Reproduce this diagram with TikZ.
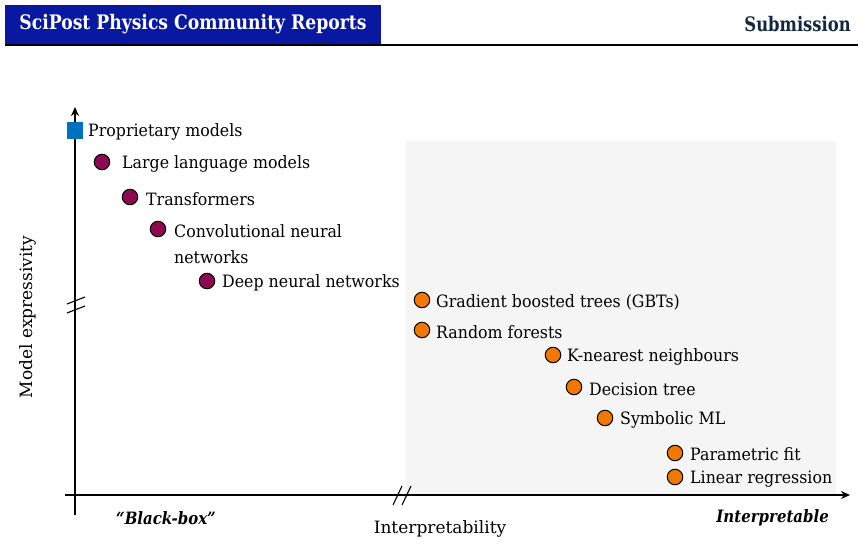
\documentclass[tikz,border=0pt]{standalone}
\usepackage{fontspec}
\setmainfont{DejaVu Serif}
\usetikzlibrary{arrows.meta}
\definecolor{hdrblue}{RGB}{8,24,160}
\definecolor{navy}{RGB}{16,40,64}
\definecolor{boxgray}{RGB}{245,245,245}
\definecolor{propblue}{RGB}{0,112,192}
\definecolor{nnpurple}{RGB}{140,10,80}
\definecolor{interporange}{RGB}{240,120,0}
\newcommand\sqz[1]{\scalebox{0.93}[1]{#1}}
\newcommand\sqzb[1]{\scalebox{0.88}[1]{#1}}
\tikzset{
  lbl/.style={anchor=west, inner sep=0pt, font=\fontsize{17}{20}\selectfont},
  blackdot/.style={circle, draw=black, line width=1pt, fill=nnpurple, minimum size=15.5pt, inner sep=0pt},
  orangedot/.style={circle, draw=black, line width=1pt, fill=interporange, minimum size=15.5pt, inner sep=0pt},
  axis/.style={line width=1.8pt, -{Stealth[length=9pt,width=8pt]}},
  brk/.style={line width=1.1pt},
}
\begin{document}
\begin{tikzpicture}[x=1pt,y=-1pt]
\useasboundingbox (0,0) rectangle (863,546);
\fill[white] (0,0) rectangle (863,546);
% header
\fill[hdrblue] (5,5) rectangle (381,44);
\node[text=white, font=\bfseries\fontsize{20}{24}\selectfont, inner sep=0pt] (hdr) at (193,24) {\scalebox{0.86}[1]{SciPost Physics Community Reports}};
\node[text=navy, font=\bfseries\fontsize{20}{24}\selectfont, inner sep=0pt, anchor=east] (sub) at (851,24) {\scalebox{0.82}[1]{Submission}};
\draw[line width=2.2pt] (5,45) -- (858,45);
% grey box
\fill[boxgray] (406,141) rectangle (836,494);
% axes
\coordinate (o1) at (65,495);
\coordinate (xe) at (850,495);
\coordinate (o2) at (75,515);
\coordinate (ye) at (75,107);
\draw[axis] (o1) -- (xe);
\draw[axis] (o2) -- (ye);
% axis breaks
\draw[brk] (67,304) -- (85,297);
\draw[brk] (67,313) -- (85,306);
\draw[brk] (393,505) -- (402,486);
\draw[brk] (402,505) -- (411,486);
% proprietary
\node[fill=propblue, minimum width=16pt, minimum height=17pt, inner sep=0pt] (prop) at (75,130) {};
\node[lbl] (propl) at (88,132) {\sqz{Proprietary models}};
% neural
\node[blackdot] (llm) at (102,162) {};
\node[lbl] (llml) at (122,164) {\sqz{Large language models}};
\node[blackdot] (tr) at (130,197) {};
\node[lbl] (trl) at (146,199) {\sqz{Transformers}};
\node[blackdot] (cnn) at (158,229) {};
\node[lbl] (cnnl) at (174,231) {\sqz{Convolutional neural}};
\node[lbl] (cnnl2) at (174,257) {\sqz{networks}};
\node[blackdot] (dnn) at (207,281) {};
\node[lbl] (dnnl) at (222,283) {\sqz{Deep neural networks}};
% interpretable
\node[orangedot] (gbt) at (422,300) {};
\node[lbl] (gbtl) at (436,302) {\sqz{Gradient boosted trees (GBTs)}};
\node[orangedot] (rf) at (422,330) {};
\node[lbl] (rfl) at (436,332) {\sqz{Random forests}};
\node[orangedot] (knn) at (553,355) {};
\node[lbl] (knnl) at (567,357) {\sqz{K-nearest neighbours}};
\node[orangedot] (dt) at (574,387) {};
\node[lbl] (dtl) at (589,389) {\sqz{Decision tree}};
\node[orangedot] (sml) at (605,418) {};
\node[lbl] (smll) at (620,420) {\sqz{Symbolic ML}};
\node[orangedot] (pf) at (675,453) {};
\node[lbl] (pfl) at (690,454) {\sqz{Parametric fit}};
\node[orangedot] (lr) at (675,477) {};
\node[lbl] (lrl) at (690,479) {\sqz{Linear regression}};
% axis labels
\node[rotate=90, inner sep=0pt, font=\fontsize{17}{20}\selectfont] (ylab) at (28,317) {Model expressivity};
\node[inner sep=0pt, font=\fontsize{17}{20}\selectfont] (xlab) at (440,529) {Interpretability};
\node[inner sep=0pt, font=\bfseries\itshape\fontsize{17}{20}\selectfont] (bb) at (166,518) {\sqzb{“Black-box”}};
\node[inner sep=0pt, anchor=east, font=\bfseries\itshape\fontsize{17}{20}\selectfont] (ip) at (829,518) {\sqzb{Interpretable}};
\end{tikzpicture}
\end{document}
